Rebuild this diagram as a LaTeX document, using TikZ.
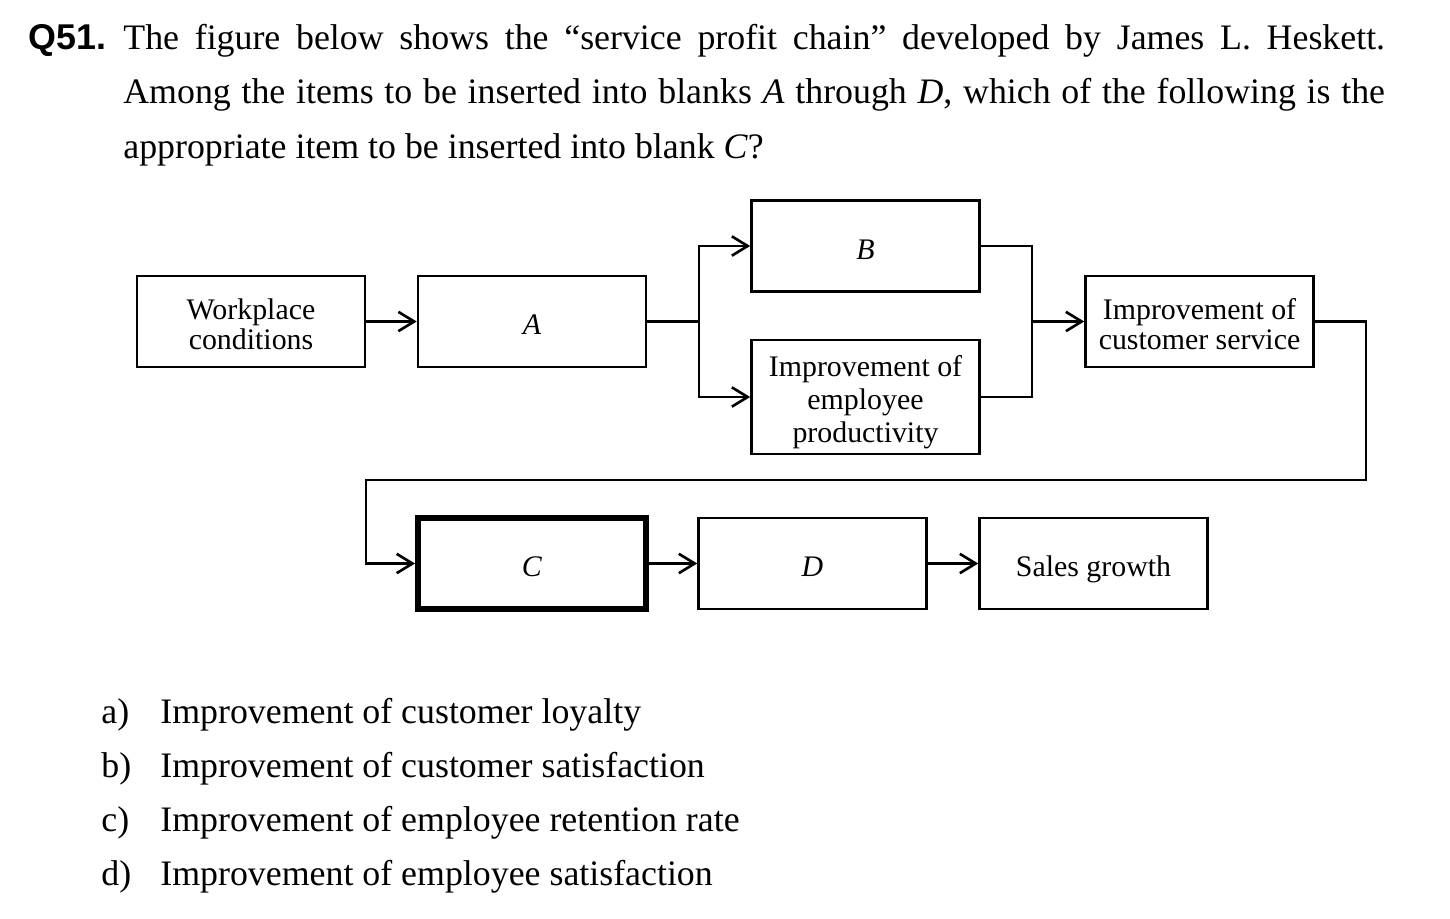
\documentclass[tikz,border=0pt]{standalone}
\usepackage{fontspec}
\setmainfont{Liberation Serif}
\newfontfamily\qsans{Liberation Sans}
\usetikzlibrary{arrows.meta}
\newcommand{\bodyfont}{\fontsize{20.4}{30.6}\selectfont}
\newcommand{\boxfont}{\fontsize{17}{17}\selectfont}
\tikzset{
  box/.style={draw, line width=1.5pt, minimum width=4.56cm, minimum height=1.82cm,
    inner sep=0pt, align=center, font=\boxfont},
  onebox/.style={box, text height=15.3pt, text depth=0pt},
  ln/.style={line width=1.5pt},
  arr/.style={ln, -{Straight Barb[length=9pt,width=11pt]}},
  txt/.style={anchor=base west, inner sep=0pt, font=\bodyfont},
}
\begin{document}
\begin{tikzpicture}[x=0.02cm,y=-0.02cm]
\path[use as bounding box] (0,0) rectangle (1450,919);

% question text
\node[txt, font=\fontsize{20.4}{30.6}\qsans\bfseries] (q) at (28,50) {Q51.};
\node[txt] (l1) at (123,50) {\makebox[25.24cm][s]{The figure below shows the “service profit chain” developed by James L. Heskett.}};
\node[txt] (l2) at (123,104) {\makebox[25.24cm][s]{Among the items to be inserted into blanks \textit{A} through \textit{D}, which of the following is the}};
\node[txt] (l3) at (123,158) {appropriate item to be inserted into blank \textit{C}?};

% boxes
\node[box] (wc) at (251,321.5) {\rule{0pt}{15pt}Workplace\\conditions};
\node[onebox] (a) at (532,321.5) {\textit{A}};
\node[onebox] (b) at (865.5,246) {\textit{B}};
\node[box, minimum height=2.28cm, font=\fontsize{17}{18.7}\selectfont] (ep) at (865.5,397) {\rule{0pt}{17.5pt}Improvement of\\employee\\productivity};
\node[box] (cs) at (1199.5,321.5) {\rule{0pt}{15pt}Improvement of\\customer service};
\node[onebox, line width=3.4pt] (c) at (532,563.5) {\textit{C}};
\node[onebox] (d) at (812.5,563.5) {\textit{D}};
\node[onebox] (sg) at (1093.5,563.5) {Sales growth};

% connectors
\coordinate (br) at (699,321.5);
\coordinate (mg) at (1032,321.5);
\coordinate (r1) at (1366,480);
\coordinate (r2) at (366,480);

\draw[arr] (wc.east) -- (a.west);
\draw[ln] (a.east) -- (br);
\draw[arr] (br) |- (b.west);
\draw[arr] (br) |- (ep.west);
\draw[ln] (b.east) -| (mg);
\draw[ln] (ep.east) -| (mg);
\draw[arr] (mg) -- (cs.west);
\draw[arr] (cs.east) -| (r1) -- (r2) |- (c.west);
\draw[arr] (c.east) -- (d.west);
\draw[arr] (d.east) -- (sg.west);

% options
\node[txt] (oa) at (101,723) {a)};
\node[txt] (ta) at (160,723) {Improvement of customer loyalty};
\node[txt] (ob) at (101,777) {b)};
\node[txt] (tb) at (160,777) {Improvement of customer satisfaction};
\node[txt] (oc) at (101,831) {c)};
\node[txt] (tc) at (160,831) {Improvement of employee retention rate};
\node[txt] (od) at (101,885) {d)};
\node[txt] (td) at (160,885) {Improvement of employee satisfaction};
\end{tikzpicture}
\end{document}
